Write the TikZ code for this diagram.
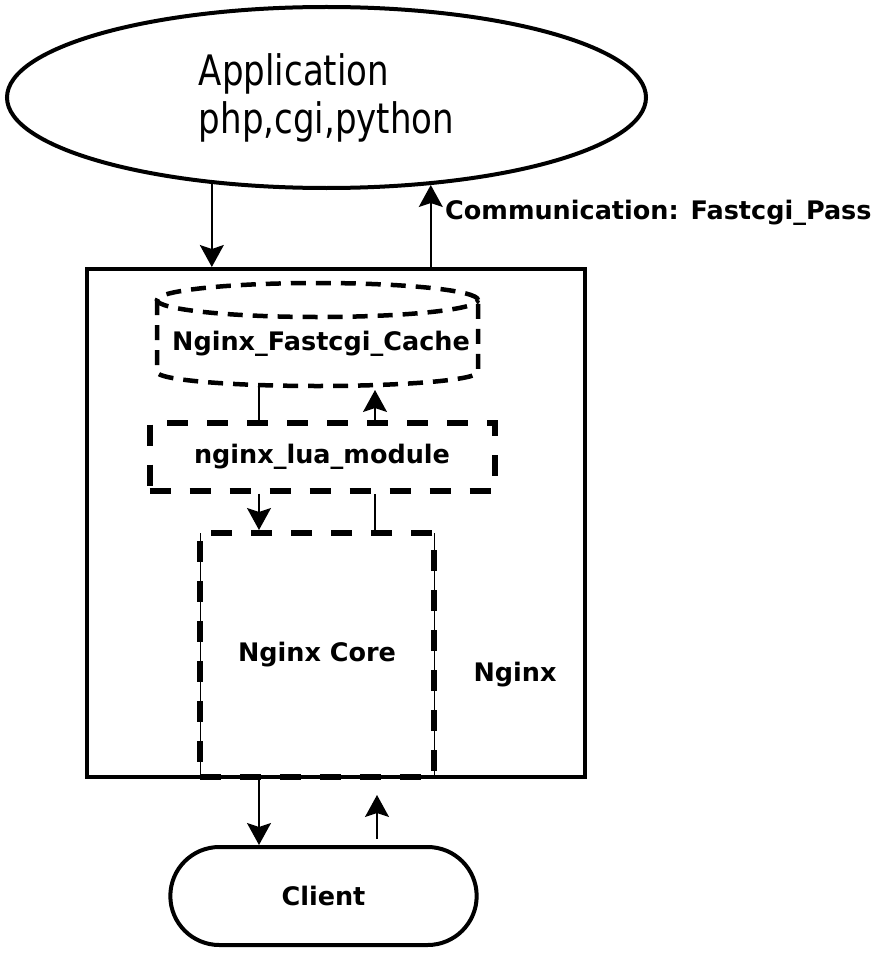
\documentclass[tikz,border=0pt]{standalone}
\usepackage{fontspec}
\setmainfont{DejaVu Sans}
\newfontfamily\appfont[FakeStretch=0.9]{DejaVu Sans Condensed}
\usetikzlibrary{shapes.geometric,shapes.misc,arrows.meta}
\tikzset{
  thickline/.style={line width=4pt},
  dashbox/.style={draw, line width=6pt, dash pattern=on 21pt off 19pt},
  cachedash/.style={line width=4.5pt, dash pattern=on 15pt off 10pt},
  arr/.style={line width=1.5pt, -{Stealth[length=22pt,width=24pt,inset=4pt]}},
  plain/.style={line width=1.5pt},
  lbl/.style={font=\bfseries\fontsize{25.5}{30}\selectfont},
}
\begin{document}
\begin{tikzpicture}[x=1pt,y=-1pt]
\useasboundingbox (0,0) rectangle (870,955);
% application
\node[ellipse, draw, thickline, minimum width=639pt, minimum height=181pt, inner sep=0pt,
      align=left, font=\appfont\fontsize{42}{48}\selectfont] (app) at (326.5,97.5)
  {Application\\php,cgi,python};
% nginx box
\node[draw, thickline, minimum width=498pt, minimum height=508pt] (nginx) at (336,523) {};
\node[lbl] (nginxlbl) at (515,675) {Nginx};
% communication label
\node[font=\bfseries\fontsize{25.5}{30}\selectfont, anchor=west, inner sep=0pt] (comm) at (445,213) {Communication: Fastcgi\_Pass};
% cache cylinder
\node[minimum width=321pt, minimum height=103pt] (cache) at (317.5,334.5) {};
\draw[cachedash] (317.5,300) ellipse [x radius=160.5pt, y radius=17pt];
\draw[cachedash]
  (157,300) -- (157,372) arc[start angle=180, end angle=360, x radius=160.5pt, y radius=14pt] -- (478,300);
\node[lbl] (cachetext) at (321,344) {Nginx\_Fastcgi\_Cache};
% lua module
\node[dashbox, minimum width=345pt, minimum height=68pt, lbl] (lua) at (322,456.5) {nginx\_lua\_module};
% core
\draw[line width=0.8pt] (200,533) -- (200,777) (434,533) -- (434,777);
\node[dashbox, minimum width=234pt, minimum height=244pt, lbl] (core) at (317,655) {Nginx Core};
% client
\node[rounded rectangle, draw, thickline, minimum width=313pt, minimum height=98pt, lbl] (client) at (323.5,896) {Client};
% connectors
\draw[arr] (app.217.2) -- (app.217.2 |- nginx.north);
\draw[arr] (app.320.2 |- nginx.north) -- (app.320.2);
\draw[plain] (259,386) -- (259,420);
\draw[arr] (lua.north -| 375,0) -- (375,390);
\draw[arr] (lua.south -| 259,0) -- (core.north -| 259,0);
\draw[plain] (core.north -| 375,0) -- (lua.south -| 375,0);
\draw[arr] (nginx.south -| 259,0) -- (client.north -| 259,0);
\draw[arr, shorten <=6pt] (client.north -| 377,0) -- (377,795);
\end{tikzpicture}
\end{document}
